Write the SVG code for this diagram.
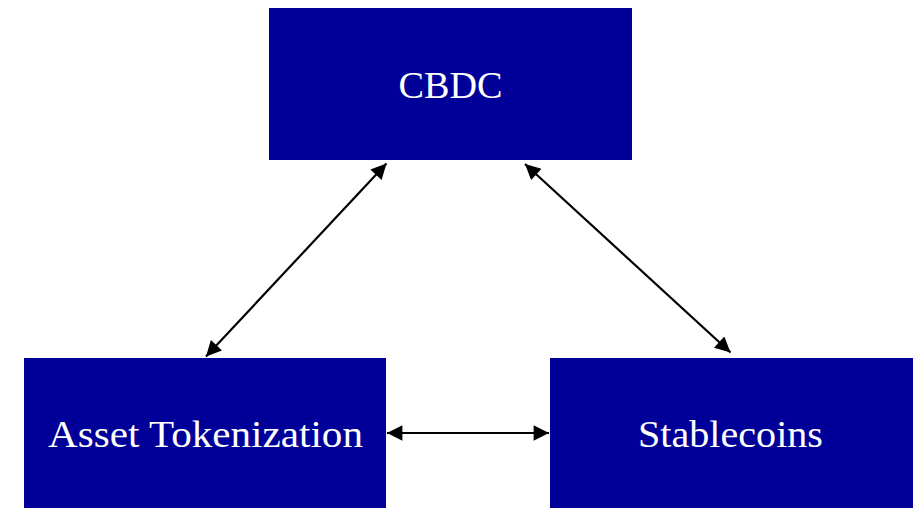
<svg xmlns="http://www.w3.org/2000/svg" width="913" height="508" viewBox="0 0 913 508">
<style>
.box{fill:#000099;}
.lbl{fill:#ffffff;font-family:"Palatino Linotype","Book Antiqua",Palatino,"Liberation Serif",serif;font-size:37px;text-anchor:middle;}
.conn{stroke:#000000;stroke-width:2.2;fill:none;marker-start:url(#ah);marker-end:url(#ah);}
</style>
<defs>
<marker id="ah" viewBox="0 0 10 10" refX="10" refY="5" markerWidth="7.5" markerHeight="7" orient="auto-start-reverse" markerUnits="strokeWidth">
<path d="M0,0 L10,5 L0,10 z" fill="#000000"/>
</marker>
</defs>
<rect width="913" height="508" fill="#ffffff"/>
<g id="cbdc">
<rect class="box" x="269" y="8" width="363" height="152"/>
<text class="lbl" x="450.5" y="98" textLength="104" lengthAdjust="spacingAndGlyphs">CBDC</text>
</g>
<g id="asset-tokenization">
<rect class="box" x="24" y="358" width="362" height="150"/>
<text class="lbl" x="205.5" y="447" textLength="315" lengthAdjust="spacingAndGlyphs">Asset Tokenization</text>
</g>
<g id="stablecoins">
<rect class="box" x="550" y="358" width="363" height="150"/>
<text class="lbl" x="730.5" y="447" textLength="185" lengthAdjust="spacingAndGlyphs">Stablecoins</text>
</g>
<g id="connectors">
<line class="conn" x1="206" y1="356.5" x2="386.5" y2="163.5"/>
<line class="conn" x1="525" y1="164" x2="730.5" y2="352.5"/>
<line class="conn" x1="387" y1="433" x2="549" y2="433"/>
</g>
</svg>
